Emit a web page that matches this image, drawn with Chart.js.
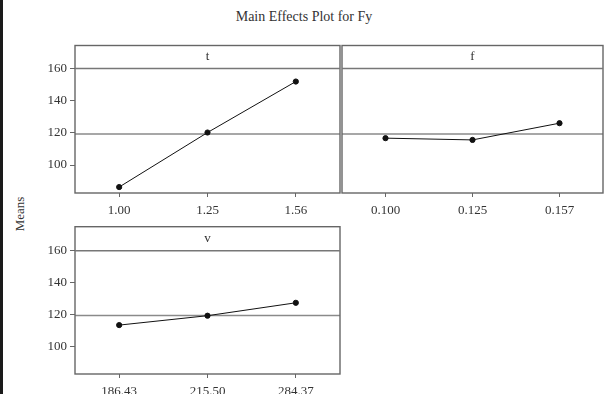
<!DOCTYPE html>
<html>
<head>
<meta charset="utf-8">
<script src="https://cdn.jsdelivr.net/npm/chart.js@4.4.1/dist/chart.umd.min.js"></script>
<style>
  html, body { margin: 0; padding: 0; background: #fff; }
  #wrap { position: relative; width: 608px; height: 394px; overflow: hidden; background: #fff; }
  #edge { position: absolute; left: 0; top: 0; width: 3px; height: 394px; background: #1a1a1a; }
  canvas { position: absolute; }
  #title { position: absolute; left: 0; width: 608px; top: 9px; text-align: center;
           font-family: "Liberation Serif", serif; font-size: 14px; color: #333; }
  #ylab { position: absolute; left: 20px; top: 214px; transform: translate(-50%, -50%) rotate(-90deg);
          font-family: "Liberation Serif", serif; font-size: 13px; color: #333; white-space: nowrap; }
</style>
</head>
<body>
<div id="wrap">
  <div id="edge"></div>
  <div id="title">Main Effects Plot for Fy</div>
  <div id="ylab">Means</div>
  <canvas id="cT" width="345" height="230" style="left:0;top:0;width:345px;height:230px"></canvas>
  <canvas id="cF" width="278" height="230" style="left:330px;top:0;width:278px;height:230px"></canvas>
  <canvas id="cV" width="345" height="194" style="left:0;top:200px;width:345px;height:194px"></canvas>
</div>
<script>
// ---- data ----
const tLabels = ['1.00', '1.25', '1.56'];
const tMeans  = [86.3, 120.2, 151.9];
const fLabels = ['0.100', '0.125', '0.157'];
const fMeans  = [116.7, 115.6, 126.0];
const vLabels = ['186.43', '215.50', '284.37'];
const vMeans  = [113.3, 119.2, 127.3];
const grandMean = 119.3;
const yTicks = [100, 120, 140, 160];
const yMin = 82.6;
const yMax = 160;

const FONT = { family: "'Liberation Serif', serif", size: 13 };
const TXT = '#333';
const LINE = '#666';

const panelPlugin = {
  id: 'panelBox',
  beforeDatasetsDraw(chart, args, o) {
    const { ctx, chartArea: a, scales } = chart;
    ctx.save();
    const ym = scales.y.getPixelForValue(grandMean);
    ctx.strokeStyle = '#8a8a8a';
    ctx.lineWidth = 1.6;
    ctx.beginPath(); ctx.moveTo(a.left, ym); ctx.lineTo(a.right, ym); ctx.stroke();
    ctx.restore();
  },
  afterDraw(chart, args, o) {
    const { ctx, chartArea: a } = chart;
    const st = o.strip;
    ctx.save();
    ctx.strokeStyle = LINE;
    ctx.lineWidth = 1.4;
    ctx.strokeRect(a.left, a.top - st, a.right - a.left, a.bottom - a.top + st);
    ctx.strokeStyle = '#777';
    ctx.lineWidth = 1.6;
    ctx.beginPath(); ctx.moveTo(a.left, a.top); ctx.lineTo(a.right, a.top); ctx.stroke();
    ctx.fillStyle = TXT;
    ctx.font = "13px 'Liberation Serif', serif";
    ctx.textAlign = 'center';
    ctx.textBaseline = 'middle';
    ctx.fillText(o.label, (a.left + a.right) / 2, a.top - st / 2);
    ctx.restore();
  }
};

function makePanel(id, labels, values, stripLabel, cfg) {
  return new Chart(document.getElementById(id), {
    type: 'line',
    data: {
      labels: labels,
      datasets: [{
        data: values,
        borderColor: '#111',
        borderWidth: 1,
        pointRadius: 2.6,
        pointBackgroundColor: '#111',
        pointBorderColor: '#111',
        tension: 0
      }]
    },
    plugins: [panelPlugin],
    options: {
      responsive: false,
      animation: false,
      devicePixelRatio: 1,
      layout: { padding: cfg.padding },
      plugins: {
        legend: { display: false },
        tooltip: { enabled: false },
        panelBox: { strip: cfg.strip, label: stripLabel }
      },
      scales: {
        x: {
          type: 'category',
          offset: true,
          grid: { drawOnChartArea: false, drawTicks: true, tickLength: 4, color: LINE, offset: false },
          border: { display: false },
          ticks: { color: TXT, font: FONT, padding: 6, maxRotation: 0 },
          afterFit(s) { s.height = cfg.xHeight; }
        },
        y: {
          min: yMin,
          max: yMax,
          display: cfg.showY,
          grid: { drawOnChartArea: false, drawTicks: true, tickLength: 5, color: LINE },
          border: { display: false },
          ticks: { color: TXT, font: FONT, padding: 3 },
          afterBuildTicks(s) { s.ticks = yTicks.map(v => ({ value: v })); },
          afterFit(s) { s.width = cfg.showY ? 75 : 0; }
        }
      }
    }
  });
}

makePanel('cT', tLabels, tMeans, 't', {
  showY: true, strip: 23, xHeight: 30,
  padding: { left: 0, right: 3, top: 68.5, bottom: 7 }
});
makePanel('cF', fLabels, fMeans, 'f', {
  showY: false, strip: 23, xHeight: 30,
  padding: { left: 12, right: 2.5, top: 68.5, bottom: 7 }
});
makePanel('cV', vLabels, vMeans, 'v', {
  showY: true, strip: 24, xHeight: 20,
  padding: { left: 0, right: 3, top: 50.7, bottom: 0 }
});
</script>
</body>
</html>
